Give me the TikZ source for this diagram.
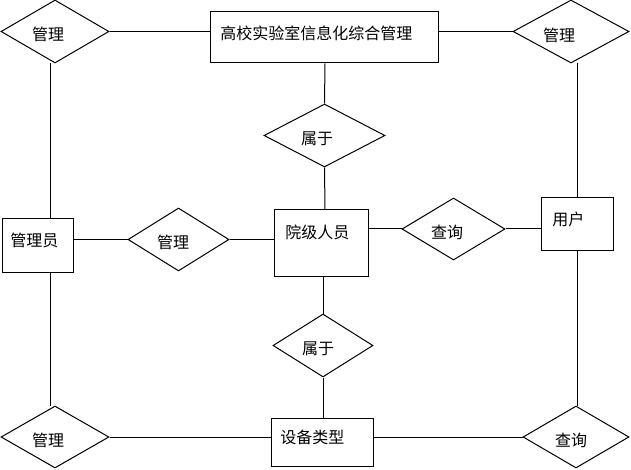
\documentclass[tikz,border=0pt]{standalone}
\usepackage{fontspec}
\newfontfamily\cjk{Noto Sans CJK SC}
\usepackage{tikz}
\usetikzlibrary{shapes.geometric}

\begin{document}
\begin{tikzpicture}[x=0.75pt,y=0.75pt,yscale=-1,xscale=1,
  entity/.style={draw,rectangle,inner sep=0pt,line width=0.75pt},
  relation/.style={draw,diamond,inner sep=0pt,line width=0.75pt},
  lbl/.style={inner sep=0.75pt,font=\cjk\fontsize{12}{14}\selectfont},
  conn/.style={line width=0.75pt}]
\useasboundingbox (0,0) rectangle (631,470);

%Shape: Rectangle (entities)
\node [entity,minimum width=171pt,minimum height=38.25pt] (sys) at (324,37.5) {};
\node [entity,minimum width=53.25pt,minimum height=39.75pt] (adm) at (37.5,245.5) {};
\node [entity,minimum width=70.5pt,minimum height=49.5pt] (yj) at (321,243) {};
\node [entity,minimum width=54pt,minimum height=39pt] (usr) at (577,224) {};
\node [entity,minimum width=76.5pt,minimum height=36pt] (dev) at (322,442) {};

%Shape: Diamond (relations)
\node [relation,minimum width=81pt,minimum height=47.25pt] (tl) at (55,31.5) {};
\node [relation,minimum width=87pt,minimum height=47.25pt] (tr) at (571,31.5) {};
\node [relation,minimum width=90.75pt,minimum height=47.25pt] (s1) at (324.5,135.5) {};
\node [relation,minimum width=75.75pt,minimum height=47.25pt] (g2) at (178.5,239.5) {};
\node [relation,minimum width=77.25pt,minimum height=46.5pt] (q1) at (453.5,229) {};
\node [relation,minimum width=75pt,minimum height=47.25pt] (s2) at (323,345.5) {};
\node [relation,minimum width=81pt,minimum height=46.5pt] (bl) at (55,437) {};
\node [relation,minimum width=79.5pt,minimum height=46.5pt] (br) at (576,437) {};

% Text Node
\node [lbl,anchor=west] (sysT) at (219,33) {高校实验室信息化综合管理};
\node [lbl,anchor=west] (admT) at (9,240) {管理员};
\node [lbl,anchor=west] (yjT) at (284,232) {院级人员};
\node [lbl,anchor=west] (usrT) at (551,219) {用户};
\node [lbl,anchor=west] (devT) at (279,437) {设备类型};
\node [lbl] (tlT) at (48,34.5) {管理};
\node [lbl] (trT) at (559,35) {管理};
\node [lbl] (s1T) at (317,138.5) {属于};
\node [lbl] (g2T) at (173,242.5) {管理};
\node [lbl] (q1T) at (447,232) {查询};
\node [lbl] (s2T) at (318,349) {属于};
\node [lbl] (blT) at (48,440) {管理};
\node [lbl] (brT) at (571,440) {查询};

%Straight Lines
\coordinate (lcol) at (50,0);
\coordinate (mcol) at (325,0);
\coordinate (rcol) at (577,0);

\draw [conn] (tl.east) -- (tl.east -| sys.west);
\draw [conn] (sys.east |- tr.west) -- (tr.west);
\draw [conn] (tl.south -| lcol) -- (adm.north -| lcol);
\draw [conn] (adm.south -| lcol) -- (bl.north -| lcol);
\draw [conn] (tr.south -| rcol) -- (usr.north -| rcol);
\draw [conn] (usr.south -| rcol) -- (br.north -| rcol);
\draw [conn] (sys.south -| mcol) -- (s1.north);
\draw [conn] (s1.south) -- (yj.north -| mcol);
\draw [conn] (yj.south -| s2.north) -- (s2.north);
\draw [conn] (s2.south) -- (dev.north -| s2.south);
\draw [conn] (g2.west -| adm.east) -- (g2.west);
\draw [conn] (g2.east) -- (g2.east -| yj.west);
\draw [conn] (yj.east |- q1.west) -- (q1.west);
\draw [conn] (q1.east) -- (q1.east -| usr.west);
\draw [conn] (bl.east) -- (bl.east -| dev.west);
\draw [conn] (dev.east |- br.west) -- (br.west);

\end{tikzpicture}
\end{document}
